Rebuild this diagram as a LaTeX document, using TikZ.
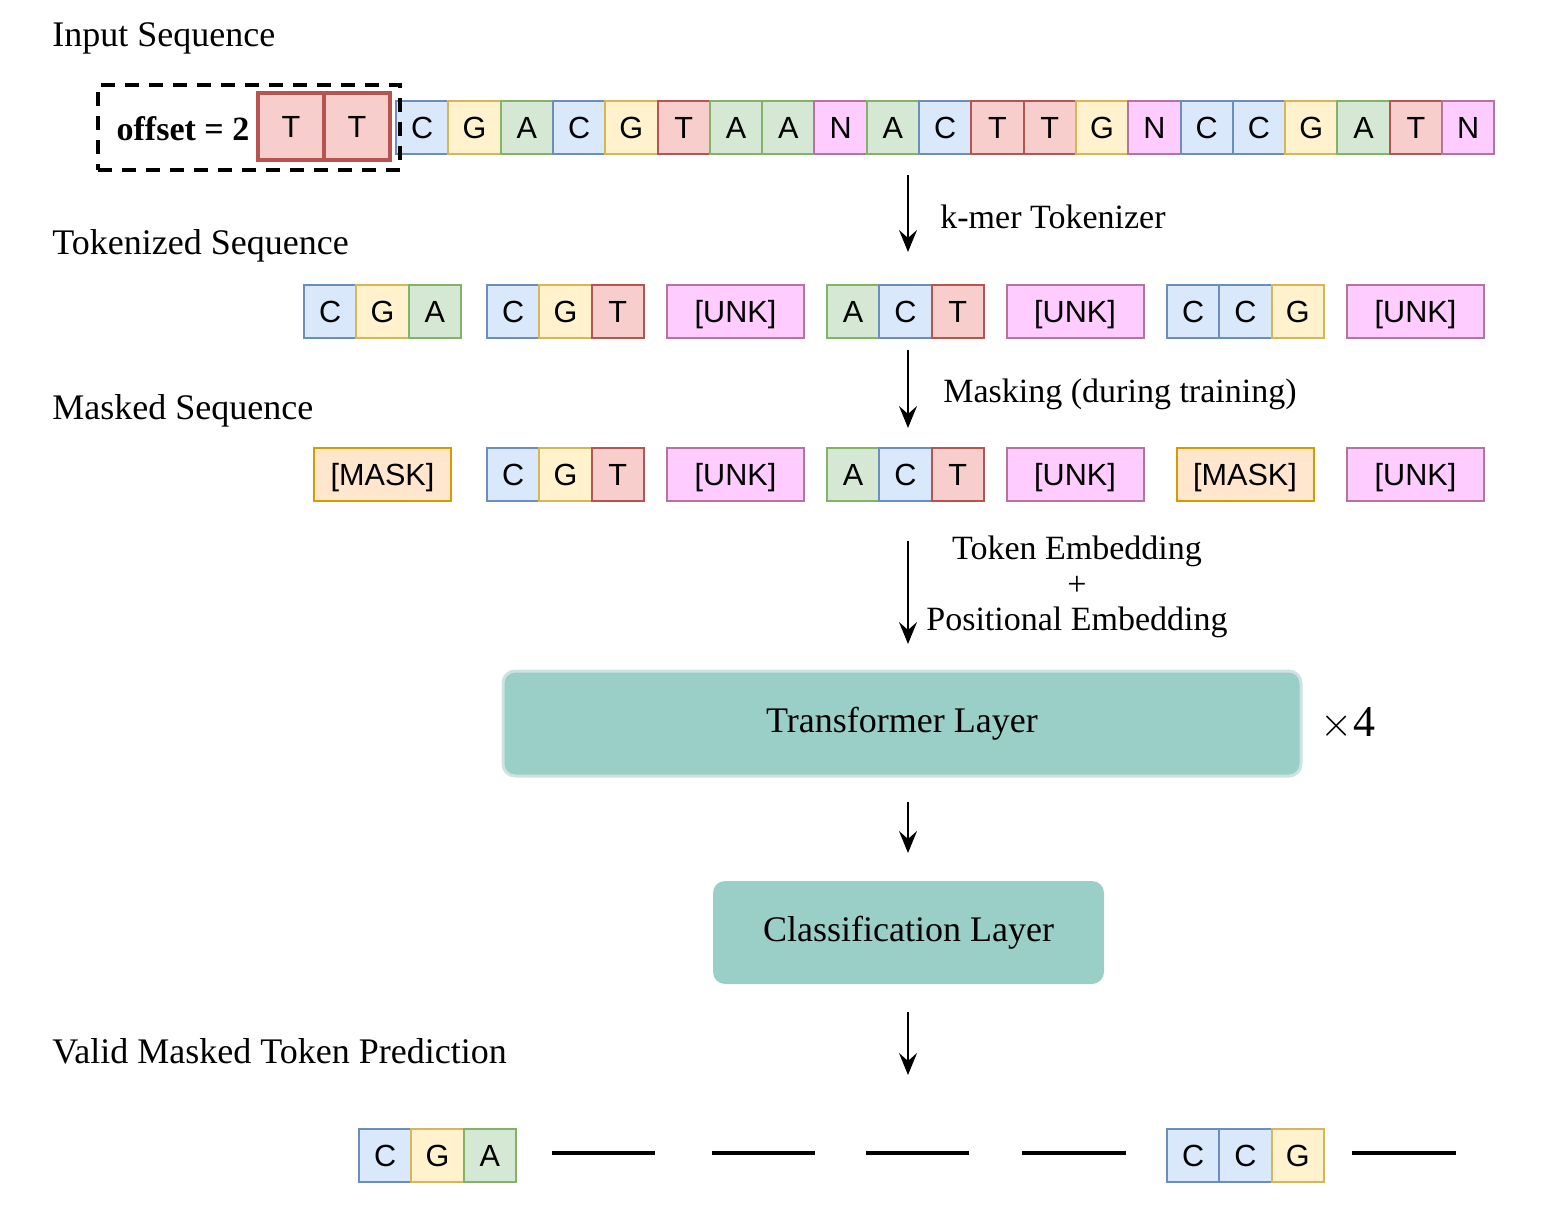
\documentclass[tikz,border=0pt]{standalone}
\usepackage{fontspec}
\setmainfont{Liberation Serif}
\setsansfont{Liberation Sans}
\usetikzlibrary{arrows.meta}
\definecolor{blueF}{HTML}{DAE8FC}\definecolor{blueD}{HTML}{6C8EBF}
\definecolor{yelF}{HTML}{FFF2CC}\definecolor{yelD}{HTML}{D6B656}
\definecolor{grnF}{HTML}{D5E8D4}\definecolor{grnD}{HTML}{82B366}
\definecolor{redF}{HTML}{F8CECC}\definecolor{redD}{HTML}{B85450}
\definecolor{pinkF}{HTML}{FFCCFF}\definecolor{pinkD}{HTML}{B5739D}
\definecolor{orF}{HTML}{FFE6CC}\definecolor{orD}{HTML}{D79B00}
\definecolor{tealF}{HTML}{9ACFC8}\definecolor{tealD}{HTML}{CFE2E2}
\tikzset{
  cellbox/.style={draw, line width=1pt, minimum width=26.15pt, minimum height=26.5pt,
    inner sep=0pt, text height=11pt, text depth=0pt, font=\sffamily\fontsize{15.3}{18}\selectfont},
  wideb/.style={cellbox, minimum width=68.5pt},
  sC/.style={fill=blueF, draw=blueD},
  sG/.style={fill=yelF, draw=yelD},
  sA/.style={fill=grnF, draw=grnD},
  sT/.style={fill=redF, draw=redD},
  sN/.style={fill=pinkF, draw=pinkD},
  sU/.style={wideb, fill=pinkF, draw=pinkD},
  sM/.style={wideb, fill=orF, draw=orD},
  lbl/.style={font=\fontsize{18}{21}\selectfont, inner sep=0pt},
  albl/.style={font=\fontsize{17}{20}\selectfont, inner sep=0pt},
  flow/.style={line width=1pt, -{Stealth[length=11pt,width=9pt,inset=4pt]}},
  blank/.style={line width=2pt},
  layerbox/.style={fill=tealF, rounded corners=6pt, font=\fontsize{18}{21}\selectfont,
    text height=12pt, text depth=3pt},
}
\newcommand\tokgroup[6]{%
  \node[cellbox,s#4] (#1-1) at ({#2+26.15},#3) {#4};
  \node[cellbox,s#5] (#1-2) at ({#2+78.45},#3) {#5};
  \node[cellbox,s#6] (#1-3) at ({#2+130.75},#3) {#6};}
\begin{document}
\begin{tikzpicture}[x=0.5pt,y=-0.5pt]
\useasboundingbox (0,0) rectangle (1542,1224);

% left labels
\node[lbl, anchor=west] (lin) at (52,38) {Input Sequence};
\node[lbl, anchor=west] (ltok) at (52,246) {Tokenized Sequence};
\node[lbl, anchor=west] (lmask) at (52,411) {Masked Sequence};
\node[lbl, anchor=west] (lpred) at (52,1051) {Valid Masked Token Prediction};

% input sequence
\foreach \L [count=\i from 0] in {C,G,A,C,G,T,A,A,N,A,C,T,T,G,N,C,C,G,A,T,N} {
  \node[cellbox, s\L] (in\i) at ({396+52.3*(\i+0.5)},128) {\L};
}
\node[cellbox, sT, line width=2pt, minimum width=33pt, minimum height=33.5pt] (off1) at (291,126.5) {T};
\node[cellbox, sT, line width=2pt, minimum width=33pt, minimum height=33.5pt] (off2) at (357,126.5) {T};
\node[font=\bfseries\fontsize{17}{20}\selectfont, inner sep=0pt] (offtxt) at (183,129) {offset = 2};
\node[draw, line width=2pt, dash pattern=on 7pt off 5pt, minimum width=151pt,
  minimum height=42.5pt, inner sep=0pt] (offbox) at (249,127.5) {};

% tokenized sequence
\tokgroup{t1}{304}{311.5}{C}{G}{A}
\tokgroup{t2}{487}{311.5}{C}{G}{T}
\node[cellbox, sU] (tu1) at (735.5,311.5) {[UNK]};
\tokgroup{t3}{827}{311.5}{A}{C}{T}
\node[cellbox, sU] (tu2) at (1075,311.5) {[UNK]};
\tokgroup{t4}{1167}{311.5}{C}{C}{G}
\node[cellbox, sU] (tu3) at (1415.5,311.5) {[UNK]};

% masked sequence
\node[cellbox, sM] (mm1) at (382.5,475) {[MASK]};
\tokgroup{m2}{487}{475}{C}{G}{T}
\node[cellbox, sU] (mu1) at (735.5,475) {[UNK]};
\tokgroup{m3}{827}{475}{A}{C}{T}
\node[cellbox, sU] (mu2) at (1075,475) {[UNK]};
\node[cellbox, sM] (mm2) at (1245,475) {[MASK]};
\node[cellbox, sU] (mu3) at (1415.5,475) {[UNK]};

% layers
\node[layerbox, draw=tealD, line width=1.5pt, minimum width=399pt, minimum height=52.5pt] (trans) at (902,723.5) {Transformer Layer};
\node[font=\fontsize{22}{26}\selectfont, inner sep=0pt] (times) at (1348,724) {$\times$4};
\node[layerbox, minimum width=195.5pt, minimum height=51.5pt] (cls) at (908.5,932.5) {Classification Layer};

% prediction row
\tokgroup{p1}{359}{1155}{C}{G}{A}
\tokgroup{p2}{1167}{1155}{C}{C}{G}
\coordinate (b1s) at (552,1153); \coordinate (b1e) at (655,1153);
\coordinate (b2s) at (712,1153); \coordinate (b2e) at (815,1153);
\coordinate (b3s) at (866,1153); \coordinate (b3e) at (969,1153);
\coordinate (b4s) at (1022,1153); \coordinate (b4e) at (1126,1153);
\coordinate (b5s) at (1352,1153); \coordinate (b5e) at (1456,1153);
\foreach \k in {1,...,5} { \draw[blank] (b\k s) -- (b\k e); }

% arrows
\coordinate (a1s) at (908,175); \coordinate (a1e) at (908,252);
\coordinate (a2s) at (908,350); \coordinate (a2e) at (908,428);
\coordinate (a3s) at (908,541); \coordinate (a3e) at (908,644);
\coordinate (a4s) at (908,802); \coordinate (a4e) at (908,853);
\coordinate (a5s) at (908,1012); \coordinate (a5e) at (908,1075);
\foreach \k in {1,...,5} { \draw[flow] (a\k s) -- (a\k e); }

% arrow labels
\node[albl, anchor=west] (ktok) at (940,217) {k-mer Tokenizer};
\node[albl, anchor=west] (mtrain) at (943,394) {Masking (during training)};
\node[albl, align=center, font=\fontsize{17}{17.75}\selectfont] (emb) at (1077,587) {Token Embedding\\+\\Positional Embedding};
\end{tikzpicture}
\end{document}
